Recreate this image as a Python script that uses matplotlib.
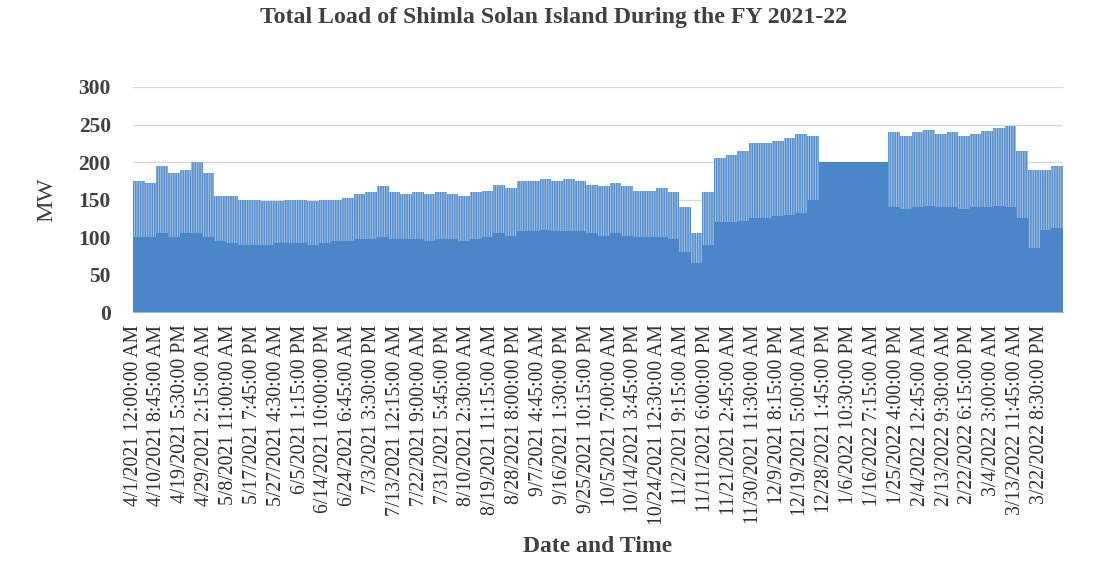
import numpy as np
import matplotlib
matplotlib.use("Agg")
import matplotlib.pyplot as plt

# ---- data -----------------------------------------------------------------
n_points = 35040          # 15-minute samples over FY 2021-22
label_step = 899          # category-axis label interval (samples)

tick_labels = [
    "4/1/2021 12:00:00 AM", "4/10/2021 8:45:00 AM", "4/19/2021 5:30:00 PM",
    "4/29/2021 2:15:00 AM", "5/8/2021 11:00:00 AM", "5/17/2021 7:45:00 PM",
    "5/27/2021 4:30:00 AM", "6/5/2021 1:15:00 PM", "6/14/2021 10:00:00 PM",
    "6/24/2021 6:45:00 AM", "7/3/2021 3:30:00 PM", "7/13/2021 12:15:00 AM",
    "7/22/2021 9:00:00 AM", "7/31/2021 5:45:00 PM", "8/10/2021 2:30:00 AM",
    "8/19/2021 11:15:00 AM", "8/28/2021 8:00:00 PM", "9/7/2021 4:45:00 AM",
    "9/16/2021 1:30:00 PM", "9/25/2021 10:15:00 PM", "10/5/2021 7:00:00 AM",
    "10/14/2021 3:45:00 PM", "10/24/2021 12:30:00 AM", "11/2/2021 9:15:00 AM",
    "11/11/2021 6:00:00 PM", "11/21/2021 2:45:00 AM", "11/30/2021 11:30:00 AM",
    "12/9/2021 8:15:00 PM", "12/19/2021 5:00:00 AM", "12/28/2021 1:45:00 PM",
    "1/6/2022 10:30:00 PM", "1/16/2022 7:15:00 AM", "1/25/2022 4:00:00 PM",
    "2/4/2022 12:45:00 AM", "2/13/2022 9:30:00 AM", "2/22/2022 6:15:00 PM",
    "3/4/2022 3:00:00 AM", "3/13/2022 11:45:00 AM", "3/22/2022 8:30:00 PM",
]

# daily peak load per ~4.6-day segment (MW)
segment_peak_mw = [
    175, 172, 195, 185, 190, 200, 185, 155, 155, 150,
    150, 148, 148, 150, 150, 148, 150, 150, 152, 158,
    160, 168, 160, 158, 160, 158, 160, 158, 155, 160,
    162, 170, 165, 175, 175, 178, 175, 178, 175, 170,
    168, 172, 168, 162, 162, 165, 160, 140, 105, 160,
    205, 210, 215, 225, 225, 228, 232, 238, 235, 200,
    200, 200, 200, 200, 200, 240, 235, 240, 243, 238,
    240, 235, 238, 242, 245, 248, 215, 190, 190, 195,
]

# daily minimum load per segment (MW)
segment_base_mw = [
    100, 100, 105, 100, 105, 105, 100, 95, 92, 90,
    90, 90, 92, 92, 92, 90, 92, 95, 95, 98,
    98, 100, 98, 98, 98, 95, 98, 98, 95, 98,
    100, 105, 102, 108, 108, 110, 108, 108, 108, 105,
    102, 105, 102, 100, 100, 100, 98, 80, 65, 90,
    120, 120, 122, 125, 125, 128, 130, 132, 150, 200,
    200, 200, 200, 200, 200, 140, 138, 140, 142, 140,
    140, 138, 140, 140, 142, 140, 125, 85, 110, 112,
]

# ---- figure ---------------------------------------------------------------
plt.rcParams["font.family"] = ["Liberation Serif", "DejaVu Serif"]
plt.rcParams["hatch.linewidth"] = 0.6

fig = plt.figure(figsize=(11.06, 5.62), dpi=100)
ax = fig.add_axes([0.1203, 0.4448, 0.8406, 0.4004])

edges = np.linspace(0, n_points, len(segment_peak_mw) + 1)
blue = "#4a86c8"

ax.stairs(segment_base_mw, edges, baseline=0, fill=True,
          color=blue, linewidth=0, zorder=2)
ax.stairs(segment_peak_mw, edges, baseline=segment_base_mw, fill=True,
          facecolor="#5890cd", edgecolor=(1, 1, 1, 0.5), linewidth=0,
          hatch="|" * 7, zorder=2)

ax.set_xlim(0, n_points)
ax.set_ylim(0, 300)
ax.set_yticks(np.arange(0, 301, 50))
ax.yaxis.grid(True, color="#d9d9d9", linewidth=1.0, zorder=0)
ax.set_axisbelow(True)

tick_pos = np.arange(len(tick_labels)) * label_step
ax.set_xticks(tick_pos)
ax.set_xticklabels(tick_labels, rotation=90, fontsize=14.2, color="#303030")
ax.tick_params(axis="x", length=0, pad=9)
ax.tick_params(axis="y", length=0, pad=16, labelsize=15.5, labelcolor="#404040")
for t in ax.get_yticklabels():
    t.set_fontweight("bold")

for s in ["top", "right", "left"]:
    ax.spines[s].set_visible(False)
ax.spines["bottom"].set_color("#9fb7d6")

ax.set_ylabel("MW", fontsize=17.5, color="#404040")
ax.yaxis.set_label_coords(-0.082, 0.5)

fig.text(0.5406, 1 - 547 / 562, "Date and Time", ha="center", va="center",
         fontsize=17, fontweight="bold", color="#404040")

fig.text(0.5, 1 - 18 / 562, "Total Load of Shimla Solan Island During the FY 2021-22",
         ha="center", va="center", fontsize=17.2, fontweight="bold",
         color="#404040")

fig.savefig("out.png", dpi=100)
